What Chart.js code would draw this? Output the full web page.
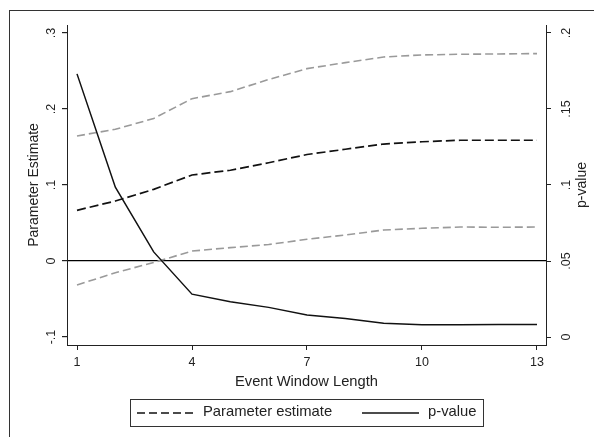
<!DOCTYPE html>
<html>
<head>
<meta charset="utf-8">
<script src="https://cdn.jsdelivr.net/npm/chart.js@4/dist/chart.umd.min.js"></script>
<style>
  html, body { margin: 0; padding: 0; background: #fff; }
  #wrap { position: relative; width: 594px; height: 437px; overflow: hidden; }
  #frame { position: absolute; left: 9px; top: 10px; width: 700px; height: 600px; border: 1px solid #333; }
  #chart { position: absolute; left: 0; top: 0; }
</style>
</head>
<body>
<div id="wrap">
  <div id="frame"></div>
  <canvas id="chart" width="594" height="437"></canvas>
</div>
<script>
// event window lengths (x)
const windowLengths = [1, 2, 3, 4, 5, 6, 7, 8, 9, 10, 11, 12, 13];

// left axis: parameter estimate and its confidence band
const estimate = [0.0667, 0.0789, 0.0943, 0.1132, 0.1194, 0.1293, 0.1401, 0.1470, 0.1539, 0.1569, 0.1589, 0.1589, 0.1589];
const upperCI  = [0.1645, 0.1733, 0.1875, 0.2136, 0.2228, 0.2388, 0.2531, 0.2610, 0.2684, 0.2711, 0.2720, 0.2724, 0.2729];
const lowerCI  = [-0.0316, -0.0154, -0.0020, 0.0131, 0.0176, 0.0217, 0.0286, 0.0342, 0.0408, 0.0430, 0.0447, 0.0444, 0.0447];

// right axis: p-value
const pValue = [0.1731, 0.0986, 0.0560, 0.0282, 0.0232, 0.0195, 0.0145, 0.0122, 0.0090, 0.0081, 0.0081, 0.0083, 0.0083];

// ticks
const xTicks = [1, 4, 7, 10, 13];
const leftTicks = [-0.1, 0, 0.1, 0.2, 0.3];
const leftTickLabels = ['-.1', '0', '.1', '.2', '.3'];
const rightTicks = [0, 0.05, 0.1, 0.15, 0.2];
const rightTickLabels = ['0', '.05', '.1', '.15', '.2'];

const FONT = "'Liberation Sans', Arial, sans-serif";
const INK = '#222';
const GREY = '#9a9a9a';

function points(ys) {
    return windowLengths.map((x, i) => ({ x: x, y: ys[i] }));
}

// legend box under the plot (Stata style), plus the right axis title read bottom-up
const extras = {
    id: 'extras',
    afterDraw(chart) {
        const ctx = chart.ctx;
        ctx.save();

        ctx.fillStyle = INK;
        ctx.font = '14px ' + FONT;
        ctx.textAlign = 'center';
        ctx.textBaseline = 'middle';
        ctx.translate(582, (chart.chartArea.top + chart.chartArea.bottom) / 2);
        ctx.rotate(-Math.PI / 2);
        ctx.fillText('p-value', 0, 0);
        ctx.setTransform(1, 0, 0, 1, 0, 0);

        ctx.strokeStyle = '#333';
        ctx.lineWidth = 1;
        ctx.strokeRect(130.5, 399.5, 353, 27);

        const items = chart.data.datasets.filter(d => d.legendOrder !== undefined)
            .sort((a, b) => a.legendOrder - b.legendOrder);
        const starts = [137, 362];
        ctx.font = '14.8px ' + FONT;
        ctx.textAlign = 'left';
        items.forEach((d, i) => {
            const x0 = starts[i];
            ctx.beginPath();
            ctx.strokeStyle = d.borderColor;
            ctx.lineWidth = d.borderWidth;
            ctx.setLineDash(d.legendDash || []);
            ctx.moveTo(x0, 413);
            ctx.lineTo(x0 + 57, 413);
            ctx.stroke();
            ctx.setLineDash([]);
            ctx.fillStyle = INK;
            ctx.fillText(d.label, x0 + 66, 411.5);
        });
        ctx.restore();
    }
};

new Chart(document.getElementById('chart'), {
    type: 'line',
    data: {
        datasets: [
            {
                label: 'p-value', data: points(pValue), yAxisID: 'y2',
                borderColor: '#111', borderWidth: 1.5, legendOrder: 1
            },
            {
                label: 'Parameter estimate', data: points(estimate), yAxisID: 'y',
                borderColor: '#111', borderWidth: 1.7, borderDash: [9, 4],
                legendDash: [8, 4], legendOrder: 0
            },
            {
                label: 'Upper bound', data: points(upperCI), yAxisID: 'y',
                borderColor: GREY, borderWidth: 1.6, borderDash: [8, 4]
            },
            {
                label: 'Lower bound', data: points(lowerCI), yAxisID: 'y',
                borderColor: GREY, borderWidth: 1.6, borderDash: [8, 4]
            }
        ]
    },
    options: {
        responsive: false,
        animation: false,
        layout: { padding: { top: 25, left: 0, right: 0, bottom: 0 } },
        elements: { point: { radius: 0 }, line: { tension: 0, fill: false } },
        plugins: { legend: { display: false }, tooltip: { enabled: false } },
        scales: {
            x: {
                type: 'linear',
                min: 0.739,
                max: 13.235,
                afterBuildTicks: s => { s.ticks = xTicks.map(v => ({ value: v })); },
                afterFit: s => { s.height = 92; },
                border: { color: INK, width: 1 },
                grid: { drawOnChartArea: false, tickLength: 5, tickColor: INK },
                ticks: {
                    color: INK, font: { family: FONT, size: 12.5 }, padding: 5,
                    maxRotation: 0, autoSkip: false, callback: v => String(v)
                },
                title: {
                    display: true, text: 'Event Window Length', color: INK,
                    font: { family: FONT, size: 14.7 }, padding: { top: 0, bottom: 46 }
                }
            },
            y: {
                position: 'left',
                min: -0.1105,
                max: 0.3105,
                afterBuildTicks: s => { s.ticks = leftTicks.map(v => ({ value: v })); },
                afterFit: s => { s.width = 67; },
                border: { color: INK, width: 1 },
                grid: {
                    tickLength: 5, tickColor: INK, lineWidth: 1.2,
                    color: c => (c.tick && c.tick.value === 0) ? '#000' : 'rgba(0,0,0,0)'
                },
                ticks: {
                    color: INK, font: { family: FONT, size: 12.5 }, padding: 3,
                    minRotation: 90, maxRotation: 90, crossAlign: 'center',
                    callback: (v, i) => leftTickLabels[i]
                },
                title: {
                    display: true, text: 'Parameter Estimate', color: INK,
                    font: { family: FONT, size: 14 }, padding: { top: 25.5, bottom: 0 }
                }
            },
            y2: {
                position: 'right',
                min: -0.00525,
                max: 0.20525,
                afterBuildTicks: s => { s.ticks = rightTicks.map(v => ({ value: v })); },
                afterFit: s => { s.width = 48; },
                border: { color: INK, width: 1 },
                grid: { drawOnChartArea: false, tickLength: 5, tickColor: INK },
                ticks: {
                    color: INK, font: { family: FONT, size: 12.5 }, padding: 7,
                    minRotation: 90, maxRotation: 90, crossAlign: 'center',
                    callback: (v, i) => rightTickLabels[i]
                },
                title: { display: false }
            }
        }
    },
    plugins: [extras]
});
</script>
</body>
</html>
